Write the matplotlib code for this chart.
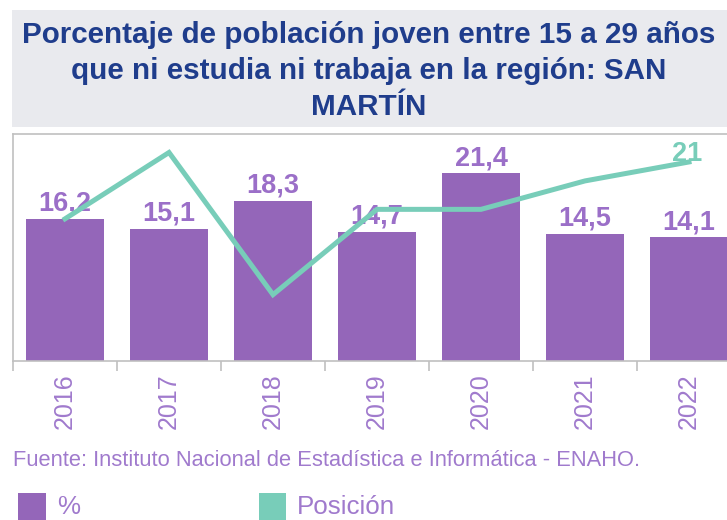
import matplotlib
matplotlib.use('Agg')
import matplotlib.pyplot as plt
from matplotlib.patches import Rectangle
import numpy as np

years = ['2016', '2017', '2018', '2019', '2020', '2021', '2022']
pct = [16.2, 15.1, 18.3, 14.7, 21.4, 14.5, 14.1]
pct_labels = ['16,2', '15,1', '18,3', '14,7', '21,4', '14,5', '14,1']
posicion = [15, 22, 7, 16, 16, 19, 21]
title_lines = ['Porcentaje de población joven entre 15 a 29 años',
               'que ni estudia ni trabaja en la región: SAN',
               'MARTÍN']
source = 'Fuente: Instituto Nacional de Estadística e Informática - ENAHO.'

plt.rcParams['font.family'] = ['Liberation Sans', 'DejaVu Sans']

W, H = 727, 520
fig = plt.figure(figsize=(W / 100, H / 100), dpi=100)


def fx(px):
    return px / W


def fy(py):
    return 1 - py / H


BAR = '#9466B9'
LAB = '#9B6FC8'
TEAL = '#78CDB9'
NAVY = '#1F3D8C'
GRID = '#C0C0C0'
TXT = '#A07ACD'

# title box
fig.add_artist(Rectangle((fx(12), fy(127)), fx(727 - 12) + 0.01, (127 - 10) / H,
                         transform=fig.transFigure, facecolor='#E9EAEE',
                         edgecolor='none', zorder=0))
title_texts = []
for line, base in zip(title_lines, [43, 79, 115]):
    title_texts.append(fig.text(fx(369), fy(base), line, ha='center', va='baseline',
                                fontsize=20, fontweight='bold', color=NAVY))

ax = fig.add_axes([fx(13), fy(361), fx(741 - 13), (361 - 134) / H])
x = np.arange(len(years))
ax.bar(x, pct, width=0.75, color=BAR, zorder=2)
ax.set_xlim(-0.5, len(years) - 0.5)
ax.set_ylim(0, 25.9)
ax.set_yticks([])
ax.set_xticks(x)
ax.set_xticklabels(years, rotation=90, color=TXT, fontsize=18)
ax.tick_params(axis='x', which='major', length=0, pad=9)
ax.set_xticks(np.arange(-0.5, len(years), 1), minor=True)
ax.tick_params(axis='x', which='minor', length=7.5, color=GRID, width=1.2)
for s in ax.spines.values():
    s.set_color(GRID)
    s.set_linewidth(1.2)
ax.spines['right'].set_visible(False)

for xi, v, lab in zip(x, pct, pct_labels):
    ax.annotate(lab, (xi, v), xytext=(0, 6), textcoords='offset points',
                ha='center', va='baseline', fontsize=19.5,
                fontweight='bold', color=LAB, zorder=3)

ax2 = ax.twinx()
ax2.plot(x, posicion, color=TEAL, lw=3.6, solid_joinstyle='miter', zorder=4)
ax2.set_ylim(0, 23.95)
ax2.set_yticks([])
for s in ax2.spines.values():
    s.set_visible(False)
ax2.annotate(str(posicion[-1]), (x[-1], posicion[-1]), xytext=(-1.5, 0.5),
             textcoords='offset points', ha='center', va='baseline',
             fontsize=19.5, fontweight='bold', color=TEAL)

t_src = fig.text(fx(13), fy(466), source, ha='left', va='baseline',
                 fontsize=14.5, color=TXT)

# legend
fig.add_artist(Rectangle((fx(18), fy(520)), fx(28), 27 / H, transform=fig.transFigure,
                         facecolor=BAR, edgecolor='none'))
t_pct = fig.text(fx(57), fy(514), '%', ha='left', va='baseline', fontsize=18, color=TXT)
fig.add_artist(Rectangle((fx(259), fy(520)), fx(27), 27 / H, transform=fig.transFigure,
                         facecolor=TEAL, edgecolor='none'))
t_pos = fig.text(fx(297), fy(514), 'Posición', ha='left', va='baseline',
                 fontsize=18, color=TXT)

# fit widths of the long texts to the reference
fig.canvas.draw()
r = fig.canvas.get_renderer()
w = title_texts[0].get_window_extent(r).width
fs_title = 20 * 694 / w
for t in title_texts:
    t.set_fontsize(fs_title)
for t, target in [(t_src, 630), (t_pos, 98)]:
    w = t.get_window_extent(r).width
    t.set_fontsize(t.get_fontsize() * target / w)
t_pct.set_fontsize(t_pos.get_fontsize())

fig.savefig('out.png', dpi=100)
